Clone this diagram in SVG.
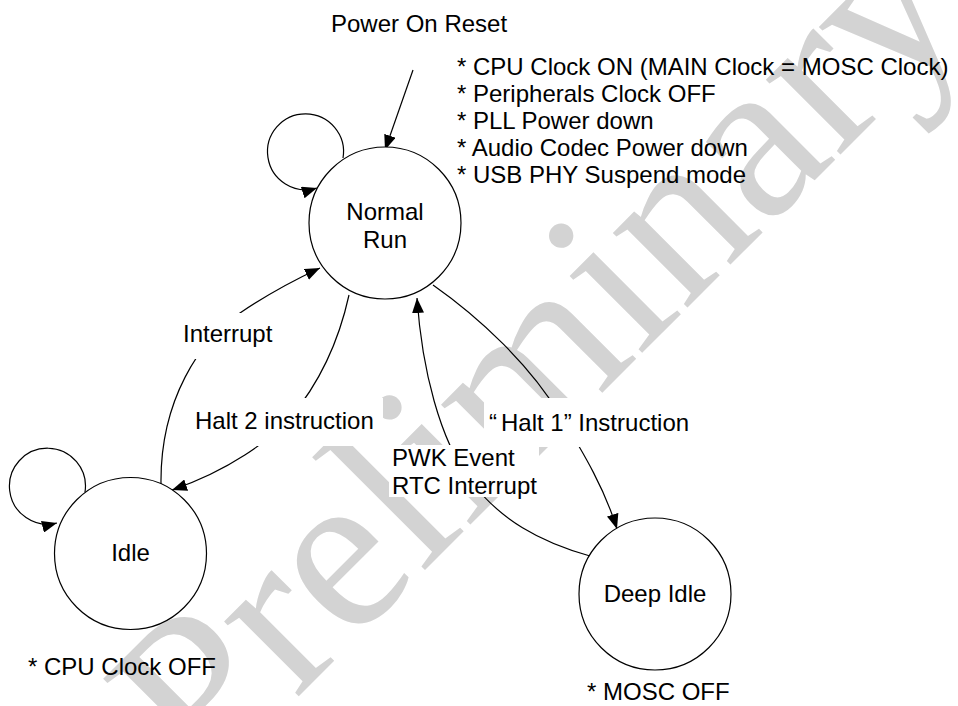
<svg xmlns="http://www.w3.org/2000/svg" width="958" height="706" viewBox="0 0 958 706">
<defs>
<marker id="ah" markerUnits="userSpaceOnUse" viewBox="0 0 15 12" refX="15" refY="6" markerWidth="15" markerHeight="12" orient="auto">
<path d="M0,0 L15,6 L0,12 z" fill="#000"/>
</marker>
</defs>
<style>
text{font-family:"Liberation Sans",Arial,"Noto Sans CJK SC",sans-serif;font-size:24px;fill:#000}
.wm{font-family:"Liberation Serif","Times New Roman",serif;font-size:230px;fill:#d3d3d3}
.node circle{fill:#fff;stroke:#000;stroke-width:1.2}
.c{fill:none;stroke:#000;stroke-width:1.2;marker-end:url(#ah)}
.lb{fill:#fff}
.mid{text-anchor:middle}
</style>
<rect width="958" height="706" fill="#fff"/>
<text class="wm" transform="translate(205,790) rotate(-45)">Preliminary</text>
<g id="connectors">
<path class="c" d="M413,70 L385,150"/>
<path class="c" d="M343,158 A38,38 0 1 0 317,188"/>
<path class="c" d="M85,492 A38,38 0 1 0 57,523"/>
<path class="c" d="M161,484 C160,400 200,340 240,313 C265,296 290,282 320,268"/>
<path class="c" d="M349,295 C338,345 318,385 290,418 C270,440 230,470 172,490"/>
<path class="c" d="M590,556 C540,542 500,520 470,480 C440,440 422,370 417,298"/>
<path class="c" d="M433,285 C480,318 530,365 560,415 C585,455 605,490 617,529"/>
</g>
<g id="labels">
<rect class="lb" x="178" y="313" width="100" height="46"/>
<text x="183" y="342">Interrupt</text>
<rect class="lb" x="190" y="398" width="193" height="48"/>
<text x="195" y="429">Halt 2 instruction</text>
<rect class="lb" x="484" y="398" width="217" height="49"/>
<text x="489" y="431">“<tspan dx="4">Halt 1”</tspan> Instruction</text>
<rect class="lb" x="389" y="445" width="150" height="52"/>
<text x="392" y="466">PWK Event</text>
<text x="392" y="494">RTC Interrupt</text>
</g>
<g id="power-on-reset">
<text x="331" y="32">Power On Reset</text>
</g>
<g id="normal-run" class="node">
<circle cx="385" cy="223" r="76"/>
<text class="mid" x="385" y="220">Normal</text>
<text class="mid" x="385" y="248">Run</text>
</g>
<g id="normal-run-notes">
<text x="457" y="75">* CPU Clock ON (MAIN Clock = MOSC Clock)</text>
<text x="457" y="102">* Peripherals Clock OFF</text>
<text x="457" y="129">* PLL Power down</text>
<text x="457" y="156">* Audio Codec Power down</text>
<text x="457" y="183">* USB PHY Suspend mode</text>
</g>
<g id="idle" class="node">
<circle cx="130.5" cy="553.5" r="76"/>
<text class="mid" x="130.5" y="561">Idle</text>
</g>
<g id="idle-notes">
<text x="28" y="675">* CPU Clock OFF</text>
</g>
<g id="deep-idle" class="node">
<circle cx="655" cy="594" r="76"/>
<text class="mid" x="655" y="602">Deep Idle</text>
</g>
<g id="deep-idle-notes">
<text x="587" y="700">* MOSC OFF</text>
</g>
</svg>
